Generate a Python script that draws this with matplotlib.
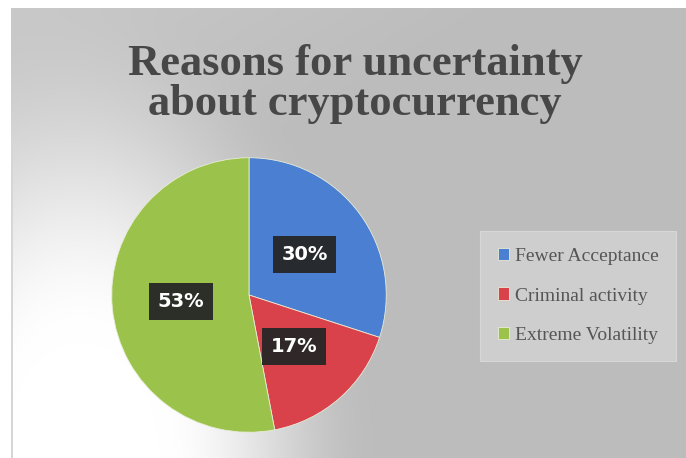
import numpy as np
import matplotlib
matplotlib.use("Agg")
import matplotlib.pyplot as plt

# Chart data
categories = ["Fewer Acceptance", "Criminal activity", "Extreme Volatility"]
shares = [30, 17, 53]
colors = ["#4a7fd2", "#d9414b", "#9bc34b"]
title = "Reasons for uncertainty\nabout cryptocurrency"

W, H, DPI = 686, 458, 100
fig = plt.figure(figsize=(W / DPI, H / DPI), dpi=DPI)
fig.patch.set_facecolor("white")

# Gray backdrop with a soft white glow in the lower-left corner
yy, xx = np.mgrid[0:H, 0:W].astype(float)
base = 0.74 + 0.05 * np.clip(1 - (xx / 500 + yy / 300), 0, 1)
d = np.hypot(xx - 80, (yy - 470) / 1.6)
t = np.clip((d - 80) / 220, 0, 1)
smooth = t * t * (3 - 2 * t)
val = base + (1 - base) * (1 - smooth)
val[:8, :] = 1.0
val[:, :11] = 1.0
val[8:, 11:13] = np.minimum(val[8:, 11:13], 0.84)
img = np.dstack([val, val, val])
fig.figimage(img, xo=0, yo=0, origin="upper", zorder=-10)

# Title
fig.text(355 / W, 1 - 84 / H, title, ha="center", va="center",
         fontsize=32, fontweight="bold", family="Liberation Serif",
         color="#474747", linespacing=1.0, zorder=3)

# Pie
cx, cy, r = 249, 295, 140
ax = fig.add_axes([(cx - r) / W, (H - cy - r) / H, 2 * r / W, 2 * r / H])
ax.set_zorder(2)
ax.set_facecolor("none")
total = sum(shares)
wedges, texts, autotexts = ax.pie(
    shares, colors=colors, startangle=90, counterclock=False,
    autopct=lambda p: f"{round(p * total / 100)}%", pctdistance=0.5,
    radius=1.0,
    wedgeprops=dict(edgecolor="#e8ecd8", linewidth=0.6),
    textprops=dict(color="white", fontweight="bold", fontsize=14),
)
for t in autotexts:
    t.set_bbox(dict(boxstyle="square,pad=0.45", facecolor="#262626",
                    edgecolor="none", alpha=0.95))
ax.set_xlim(-1.02, 1.02)
ax.set_ylim(-1.02, 1.02)
ax.axis("off")

# Legend
leg = fig.legend(wedges, categories, loc="center left",
                 bbox_to_anchor=(480 / W, 1 - 296 / H),
                 prop=dict(family="Liberation Serif", size=14),
                 labelspacing=1.15, handlelength=0.6, handleheight=0.6,
                 handletextpad=0.3, borderpad=0.9, borderaxespad=0,
                 fancybox=False, frameon=True)
leg.set_zorder(4)
frame = leg.get_frame()
frame.set_facecolor("#d3d3d3")
frame.set_edgecolor("#dcdcdc")
frame.set_linewidth(0.8)
for t in leg.get_texts():
    t.set_color("#555555")

fig.savefig("out.png", dpi=DPI)
